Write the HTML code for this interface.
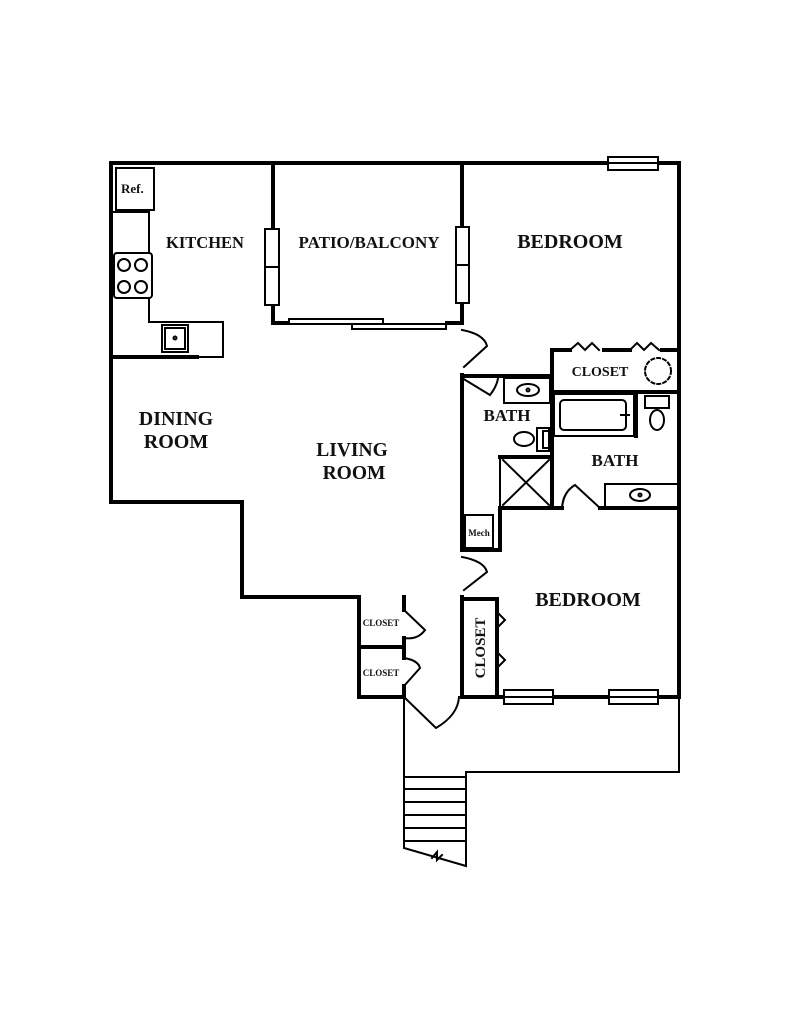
<!DOCTYPE html>
<html><head><style>body{margin:0;background:#fff}svg{display:block}text{font-family:"Liberation Serif",serif;font-weight:bold;fill:#111}</style></head><body>
<svg width="791" height="1024" viewBox="0 0 791 1024" xmlns="http://www.w3.org/2000/svg">
<g stroke="#000" fill="none" stroke-linecap="square">
<g stroke-width="4">
<polyline points="111,163 679,163 679,697"/>
<polyline points="111,163 111,502 242,502 242,597 359,597 359,697 404,697"/>
<line x1="273" y1="163" x2="273" y2="323"/>
<line x1="462" y1="163" x2="462" y2="323"/>
<line x1="113" y1="357" x2="197" y2="357"/>
<polyline points="462,375 462,550 500,550 500,508 562,508"/>
<line x1="600" y1="508" x2="679" y2="508"/>
<polyline points="462,597 462,697 679,697"/>
<polyline points="462,599 497,599 497,697"/>
<polyline points="552,375 552,350 570,350"/><line x1="604" y1="350" x2="630" y2="350"/><line x1="662" y1="350" x2="679" y2="350"/>
<line x1="462" y1="376" x2="552" y2="376"/>
<line x1="552" y1="376" x2="552" y2="508"/>
<line x1="552" y1="392" x2="679" y2="392"/>
<line x1="500" y1="457" x2="552" y2="457"/>
<line x1="636" y1="392" x2="636" y2="436"/>
<line x1="359" y1="647" x2="404" y2="647"/>
<line x1="404" y1="597" x2="404" y2="610"/><line x1="404" y1="638" x2="404" y2="658"/><line x1="404" y1="686" x2="404" y2="697"/>
<line x1="273" y1="323" x2="290" y2="323"/><line x1="447" y1="323" x2="462" y2="323"/>
</g>
<g stroke-width="2">
<polyline points="404,697 404,848 466,866 466,772 679,772 679,697"/>
<line x1="404" y1="777" x2="466" y2="777"/><line x1="404" y1="789" x2="466" y2="789"/><line x1="404" y1="802" x2="466" y2="802"/><line x1="404" y1="815" x2="466" y2="815"/><line x1="404" y1="828" x2="466" y2="828"/><line x1="404" y1="841" x2="466" y2="841"/>
<polyline points="432,858 437,852 437,860 442,855"/>
<rect x="116" y="168" width="38" height="42"/>
<polyline points="114,212 149,212 149,322 223,322 223,357 197,357"/>
<rect x="114" y="253" width="38" height="45" rx="3" fill="#fff"/>
<circle cx="124" cy="265" r="6"/><circle cx="141" cy="265" r="6"/><circle cx="124" cy="287" r="6"/><circle cx="141" cy="287" r="6"/>
<rect x="162" y="325" width="26" height="27"/><rect x="165" y="328" width="20" height="21"/><circle cx="175" cy="338" r="1.5"/>
<rect x="265" y="229" width="14" height="76" fill="#fff"/><line x1="265" y1="267" x2="279" y2="267"/>
<rect x="456" y="227" width="13" height="76" fill="#fff"/><line x1="456" y1="265" x2="469" y2="265"/>
<rect x="289" y="319" width="94" height="5" fill="#fff"/><rect x="352" y="324" width="94" height="5" fill="#fff"/>
<rect x="608" y="157" width="50" height="13" fill="#fff"/><line x1="608" y1="163" x2="658" y2="163"/>
<rect x="504" y="690" width="49" height="14" fill="#fff"/><line x1="504" y1="697" x2="553" y2="697"/>
<rect x="609" y="690" width="49" height="14" fill="#fff"/><line x1="609" y1="697" x2="658" y2="697"/>
<path d="M462,330 Q484,334 487,346 L464,367"/>
<path d="M462,378 L490,395 Q497,386 498,378"/>
<path d="M462,557 Q484,561 487,572 L464,590"/>
<path d="M404,697 L436,728 Q458,715 459,697"/>
<path d="M562,508 Q563,492 575,485 L600,508"/>
<path d="M404,610 L425,630 Q418,640 404,638"/>
<path d="M404,658 Q418,660 420,668 L404,686"/>
<polyline points="570,350 578,343 585,350 592,343 599,350"/>
<polyline points="630,350 637,343 644,350 651,343 659,350"/>
<polyline points="497,612 505,620 497,628"/><polyline points="497,652 505,660 497,668"/>
<circle cx="658" cy="371" r="13" stroke-dasharray="3,3"/>
<rect x="504" y="378" width="46" height="25"/><ellipse cx="528" cy="390" rx="11" ry="6"/><circle cx="528" cy="390" r="1.5"/>
<ellipse cx="524" cy="439" rx="10" ry="7"/><rect x="537" y="428" width="12" height="23"/><rect x="543" y="431" width="8" height="17"/>
<rect x="500" y="457" width="52" height="51"/><line x1="503" y1="460" x2="549" y2="505"/><line x1="549" y1="460" x2="503" y2="505"/>
<rect x="554" y="394" width="80" height="42"/><rect x="560" y="400" width="66" height="30" rx="4"/><line x1="621" y1="415" x2="629" y2="415"/>
<rect x="645" y="396" width="24" height="12"/><ellipse cx="657" cy="420" rx="7" ry="10"/>
<rect x="605" y="484" width="74" height="24"/><ellipse cx="640" cy="495" rx="10" ry="6"/><circle cx="640" cy="495" r="1.5"/>
<rect x="465" y="515" width="28" height="33"/>
</g>
</g>
<text x="121" y="193" font-size="13">Ref.</text>
<text x="205" y="248" font-size="16.5" text-anchor="middle">KITCHEN</text>
<text x="369" y="248" font-size="17" text-anchor="middle">PATIO/BALCONY</text>
<text x="570" y="248" font-size="20" text-anchor="middle">BEDROOM</text>
<text x="600" y="376" font-size="14" text-anchor="middle">CLOSET</text>
<text x="507" y="421" font-size="17" text-anchor="middle">BATH</text>
<text x="615" y="466" font-size="17" text-anchor="middle">BATH</text>
<text x="176" y="425" font-size="20" text-anchor="middle">DINING</text>
<text x="176" y="448" font-size="20" text-anchor="middle">ROOM</text>
<text x="352" y="456" font-size="19.5" text-anchor="middle">LIVING</text>
<text x="354" y="479" font-size="19.5" text-anchor="middle">ROOM</text>
<text x="479" y="536" font-size="9" text-anchor="middle">Mech</text>
<text x="588" y="606" font-size="20" text-anchor="middle">BEDROOM</text>
<text x="381" y="626" font-size="9" text-anchor="middle">CLOSET</text>
<text x="381" y="676" font-size="9" text-anchor="middle">CLOSET</text>
<text x="0" y="0" font-size="15" text-anchor="middle" transform="translate(485,648) rotate(-90)">CLOSET</text>
</svg>
</body></html>
